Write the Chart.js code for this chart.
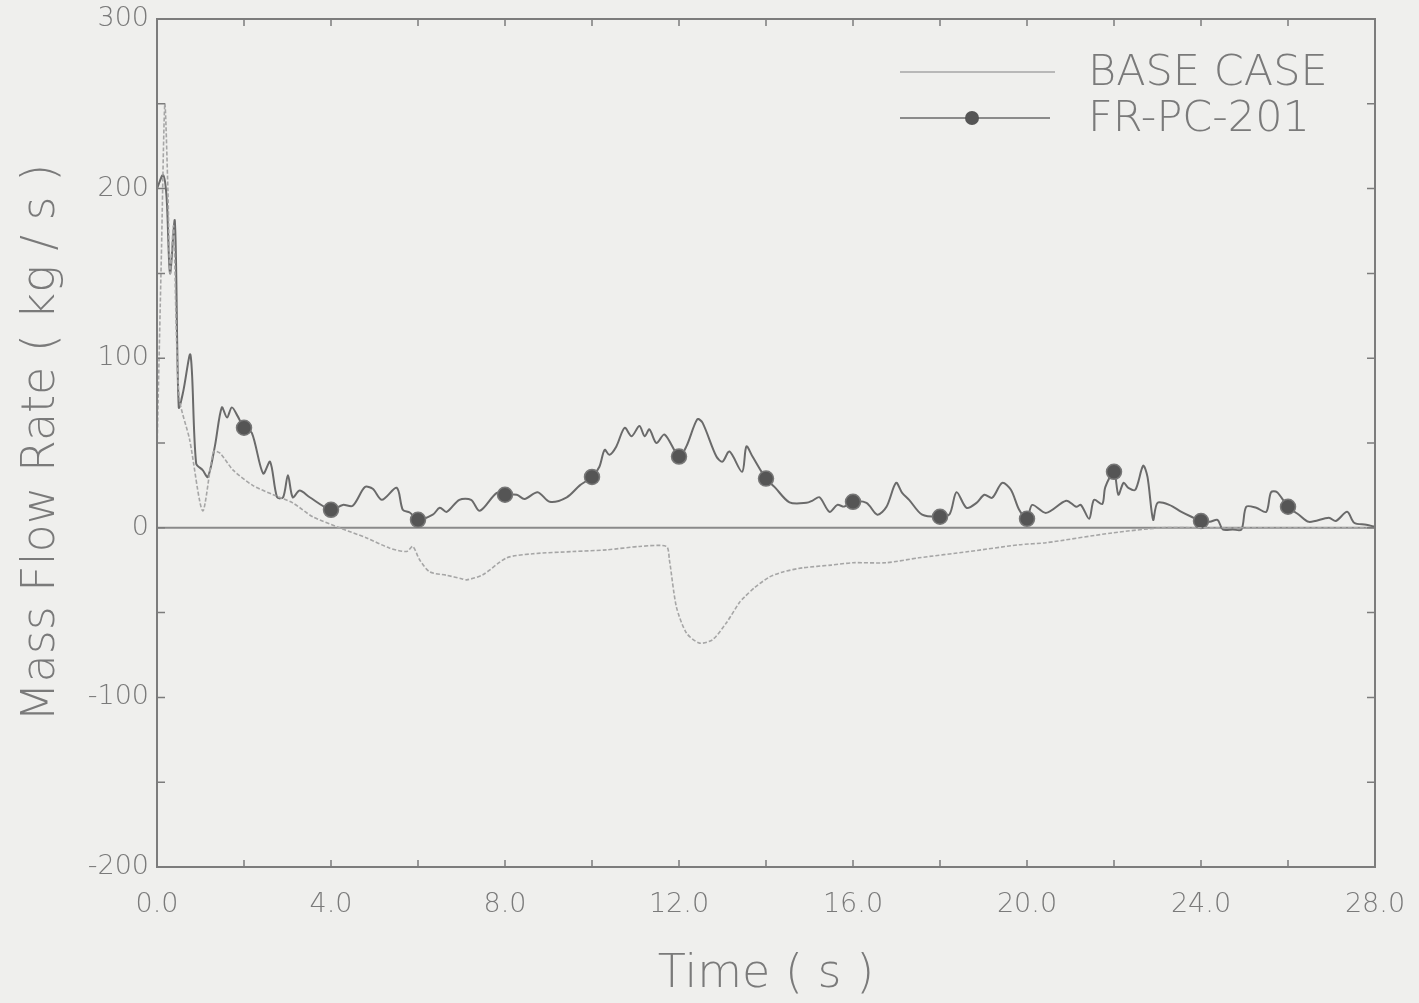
<!DOCTYPE html>
<html>
<head>
<meta charset="utf-8">
<script src="https://cdn.jsdelivr.net/npm/chart.js@4.4.1/dist/chart.umd.min.js"></script>
<style>
  html, body { margin: 0; padding: 0; background: #efefed; }
  #wrap { width: 1419px; height: 1003px; position: relative; }
</style>
</head>
<body>
<div id="wrap"><canvas id="flow"></canvas></div>
<script>
// Base case transient (time in s, flow in kg/s)
const baseTime = [0.0, 0.1, 0.18, 0.25, 0.3, 0.38, 0.45, 0.52, 0.75, 1.05, 1.3, 1.45, 1.75, 2.2, 2.67, 3.12, 3.58, 4.2, 4.82, 5.35, 5.74, 5.88, 6.04, 6.27, 6.66, 7.0, 7.12, 7.49, 8.04, 8.64, 9.56, 10.34, 11.09, 11.71, 11.78, 11.94, 12.17, 12.47, 12.77, 13.09, 13.39, 13.51, 13.75, 14.08, 14.39, 14.84, 15.5, 16.0, 16.76, 17.51, 18.66, 19.82, 20.44, 21.96, 23.1, 24.0, 26.0, 28.0];
const baseFlow = [45, 160, 250, 200, 150, 178, 110, 75, 52, 10, 45, 44, 34, 25, 19.5, 14.7, 6.5, 0, -6, -12, -14, -11, -19, -26, -28, -30, -30.7, -27.7, -17.7, -15.3, -14, -13, -11, -11, -19, -46.6, -62, -68, -66, -56, -44, -40.7, -35, -29, -26, -23.6, -22, -20.6, -20.6, -17.7, -14, -10, -8.8, -3, 0, 0, 0, 0];

// FR-PC-201 transient
const frTime = [0.0, 0.14, 0.22, 0.3, 0.41, 0.5, 0.6, 0.77, 0.9, 1.05, 1.17, 1.33, 1.49, 1.61, 1.72, 1.85, 2.0, 2.18, 2.44, 2.6, 2.76, 2.9, 3.01, 3.12, 3.28, 3.51, 4.0, 4.27, 4.5, 4.78, 4.96, 5.17, 5.51, 5.65, 5.81, 6.0, 6.34, 6.5, 6.66, 6.95, 7.22, 7.42, 7.81, 8.0, 8.27, 8.45, 8.75, 9.03, 9.42, 9.72, 10.0, 10.17, 10.29, 10.4, 10.56, 10.75, 10.91, 11.09, 11.21, 11.32, 11.48, 11.67, 12.0, 12.17, 12.42, 12.54, 12.86, 13.0, 13.16, 13.45, 13.55, 13.69, 14.0, 14.2, 14.54, 14.93, 15.07, 15.23, 15.46, 15.64, 15.8, 16.0, 16.31, 16.56, 16.77, 16.99, 17.13, 17.29, 17.59, 18.0, 18.22, 18.38, 18.61, 18.84, 19.02, 19.2, 19.43, 19.63, 19.82, 20.0, 20.12, 20.44, 20.9, 21.13, 21.24, 21.43, 21.54, 21.73, 21.8, 22.0, 22.1, 22.22, 22.33, 22.49, 22.67, 22.77, 22.9, 23.0, 23.27, 23.55, 23.78, 24.0, 24.2, 24.38, 24.5, 24.73, 24.93, 25.04, 25.27, 25.5, 25.61, 25.75, 26.0, 26.25, 26.48, 26.94, 27.1, 27.36, 27.52, 27.8, 28.0];
const frFlow = [200, 208, 195, 150, 181, 71, 80, 102, 38, 34, 30, 48, 71, 65, 71, 66, 59, 56, 32, 39, 18, 18, 31, 18, 22, 18, 10.6, 13.5, 13, 24, 23, 16.5, 23.6, 10.6, 9, 4.7, 7.7, 11.8, 9.4, 16.5, 16.5, 10, 20.6, 19.5, 19.5, 17, 21, 15.3, 18, 25, 30, 36, 46, 43, 48, 59, 54, 60, 54, 58, 50, 55, 42, 48, 64, 62, 42, 39, 45, 33, 48, 42, 29, 24, 15, 14.7, 16, 18, 9.4, 13.5, 12.5, 15.3, 14.7, 7.7, 12.4, 26.5, 20.6, 16.5, 7.7, 6.5, 8, 21, 11.8, 14.7, 19.5, 17.7, 26.5, 22.4, 10.6, 5.3, 13.5, 8.8, 16, 12.4, 13.5, 5.3, 16.5, 14, 24, 33, 19.5, 26.5, 23.6, 22.4, 36.6, 30, 4.7, 14.7, 13.5, 9.4, 6.5, 4, 3.5, 4.7, -1, -1, -1, 12.4, 11.8, 9.4, 21, 21, 12.4, 7.7, 3.5, 5.9, 4, 9.4, 3, 1.8, 0.6];

// Symbols are plotted every 2 s on the FR-PC-201 curve
const markerTimes = [2, 4, 6, 8, 10, 12, 14, 16, 18, 20, 22, 24, 26];

const xTickLabels = [0, 4, 8, 12, 16, 20, 24, 28];
const yTickLabels = [-200, -100, 0, 100, 200, 300];

const seriesNames = ['BASE CASE', 'FR-PC-201'];

const INK = '#6a6a6a';
const BASE_INK = '#a6a6a6';
const TEXT = '#7a7a7a';
const FONT = '"DejaVu Sans", sans-serif';

const toPoints = (xs, ys) => xs.map((x, i) => ({ x, y: ys[i] }));

// Frame, inward tick marks, zero line and the legend
const framePlugin = {
  id: 'frame',
  beforeDatasetsDraw(chart) {
    const { ctx, chartArea: a, scales } = chart;
    ctx.save();
    ctx.strokeStyle = '#8a8a8a';
    ctx.lineWidth = 2;
    const y0 = scales.y.getPixelForValue(0);
    ctx.beginPath();
    ctx.moveTo(a.left, y0);
    ctx.lineTo(a.right, y0);
    ctx.stroke();
    ctx.restore();
  },
  afterDatasetsDraw(chart) {
    const { ctx, chartArea: a, scales } = chart;
    ctx.save();
    ctx.strokeStyle = '#7c7c7c';
    ctx.lineWidth = 2;
    ctx.strokeRect(a.left, a.top, a.right - a.left, a.bottom - a.top);

    ctx.lineWidth = 1.5;
    ctx.beginPath();
    scales.x.ticks.forEach(t => {
      const px = scales.x.getPixelForValue(t.value);
      ctx.moveTo(px, a.bottom); ctx.lineTo(px, a.bottom - 7);
      ctx.moveTo(px, a.top); ctx.lineTo(px, a.top + 7);
    });
    scales.y.ticks.forEach(t => {
      const py = scales.y.getPixelForValue(t.value);
      ctx.moveTo(a.left, py); ctx.lineTo(a.left + 8, py);
      ctx.moveTo(a.right, py); ctx.lineTo(a.right - 8, py);
    });
    ctx.stroke();

    // legend
    const lx0 = 900, lx1 = 1055, tx = 1088;
    const rows = [72, 118];
    ctx.lineWidth = 1.5;
    ctx.strokeStyle = BASE_INK;
    ctx.beginPath(); ctx.moveTo(lx0, rows[0]); ctx.lineTo(lx1, rows[0]); ctx.stroke();
    ctx.strokeStyle = INK;
    ctx.beginPath(); ctx.moveTo(lx0, rows[1]); ctx.lineTo(lx1 - 5, rows[1]); ctx.stroke();
    ctx.fillStyle = '#555';
    ctx.beginPath(); ctx.arc(972, rows[1], 7, 0, Math.PI * 2); ctx.fill();

    ctx.fillStyle = TEXT;
    ctx.font = '200 43px ' + FONT;
    ctx.textBaseline = 'middle';
    ctx.textAlign = 'left';
    seriesNames.forEach((name, i) => ctx.fillText(name, tx, rows[i] + 2));
    ctx.restore();
  }
};

new Chart(document.getElementById('flow'), {
  type: 'line',
  data: {
    datasets: [
      {
        label: seriesNames[0],
        data: toPoints(baseTime, baseFlow),
        borderColor: BASE_INK,
        borderWidth: 1.6,
        borderDash: [4, 2],
        pointRadius: 0,
        tension: 0.25
      },
      {
        label: seriesNames[1],
        data: toPoints(frTime, frFlow),
        borderColor: INK,
        borderWidth: 2,
        tension: 0.3,
        pointRadius: ctx => (ctx.raw && markerTimes.includes(ctx.raw.x)) ? 7.5 : 0,
        pointBackgroundColor: '#555555',
        pointBorderColor: '#777777',
        pointBorderWidth: 1.5
      }
    ]
  },
  options: {
    responsive: true,
    maintainAspectRatio: false,
    animation: false,
    layout: { padding: { left: 0, right: 44, top: 19, bottom: 0 } },
    plugins: {
      legend: { display: false },
      tooltip: { enabled: false }
    },
    scales: {
      x: {
        type: 'linear',
        min: 0,
        max: 28,
        afterFit: s => {
          s.height = 136;
          s.paddingLeft = 0;
          s.paddingRight = 0;
        },
        grid: { display: false, drawTicks: false },
        border: { display: false },
        ticks: {
          stepSize: 2,
          autoSkip: false,
          maxRotation: 0,
          padding: 22,
          color: TEXT,
          font: { family: FONT, size: 27, weight: '200' },
          callback: v => xTickLabels.includes(v) ? v.toFixed(1) : ''
        },
        title: {
          display: true,
          text: 'Time ( s )',
          color: TEXT,
          font: { family: FONT, size: 46, weight: '200' },
          padding: { top: 0, bottom: 0 }
        }
      },
      y: {
        min: -200,
        max: 300,
        afterFit: s => {
          s.width = 157;
          s.paddingTop = 0;
          s.paddingBottom = 0;
        },
        grid: { display: false, drawTicks: false },
        border: { display: false },
        ticks: {
          stepSize: 50,
          autoSkip: false,
          padding: 8,
          color: TEXT,
          font: { family: FONT, size: 27, weight: '200' },
          callback: v => yTickLabels.includes(v) ? String(v) : ''
        },
        title: {
          display: true,
          text: 'Mass Flow Rate ( kg / s )',
          color: TEXT,
          font: { family: FONT, size: 46, weight: '200' },
          padding: { top: 14, bottom: 0 }
        }
      }
    }
  },
  plugins: [framePlugin]
});
</script>
</body>
</html>
